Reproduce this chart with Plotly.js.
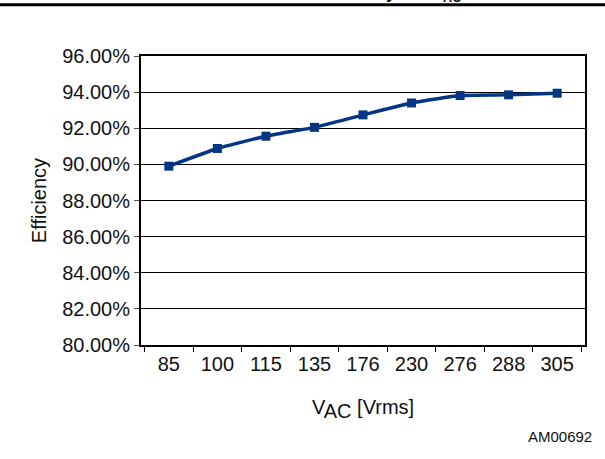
<!DOCTYPE html>
<html>
<head>
<meta charset="utf-8">
<script src="https://cdn.plot.ly/plotly-3.0.1.min.js"></script>
<style>html,body{margin:0;padding:0;background:#fff;}#chart{width:605px;height:459px;}</style>
</head>
<body>
<div id="chart"></div>
<script>
const voltages = ["85", "100", "115", "135", "176", "230", "276", "288", "305"];
const efficiency = [89.9, 90.88, 91.56, 92.05, 92.74, 93.4, 93.81, 93.85, 93.94];
const yTicks = [80, 82, 84, 86, 88, 90, 92, 94, 96];

const trace = {
  x: voltages,
  y: efficiency,
  type: 'scatter',
  mode: 'lines+markers',
  line: {color: '#043683', width: 3.5, shape: 'spline', smoothing: 0.4},
  marker: {symbol: 'square', size: 9, color: '#043683'},
  hoverinfo: 'none'
};

const FAM = 'Liberation Sans, Arial, sans-serif';
const font = {family: FAM, size: 20, color: '#111'};

const layout = {
  width: 605, height: 459,
  margin: {l: 141, r: 20, t: 56, b: 114},
  paper_bgcolor: '#fff', plot_bgcolor: '#fff',
  showlegend: false,
  font: font,
  xaxis: {
    type: 'category',
    tickson: 'boundaries',
    ticks: 'outside', ticklen: 5, tickcolor: '#000', tickwidth: 1,
    showgrid: false,
    showline: true, linecolor: '#000', linewidth: 2, mirror: true,
    tickfont: font,
    title: {text: 'V<sub><span style="font-size:20px">AC</span></sub> [Vrms]', font: {family: FAM, size: 20, color: '#111'}, standoff: 26},
    fixedrange: true
  },
  yaxis: {
    range: [80, 96],
    tickvals: yTicks,
    ticktext: yTicks.map(v => v.toFixed(2) + '%'),
    ticks: 'outside', ticklen: 5, tickcolor: '#555', tickwidth: 1,
    showgrid: true, gridcolor: '#000', gridwidth: 1,
    showline: true, linecolor: '#000', linewidth: 2, mirror: true,
    tickfont: font,
    title: {text: 'Efficiency', font: {family: FAM, size: 20, color: '#111'}, standoff: 10},
    zeroline: false,
    fixedrange: true
  },
  shapes: [
    {type: 'line', xref: 'paper', yref: 'paper', x0: -0.4, x1: 1.1, y0: 1.177, y1: 1.177, line: {color: '#000', width: 3}}
  ],
  annotations: [
    {text: 'AM00692', xref: 'paper', yref: 'paper', x: 1.02, y: -0.315, xanchor: 'right', yanchor: 'middle', showarrow: false, font: {family: FAM, size: 15, color: '#111'}},
    {text: '<b>Efficiency vs. V<sub>AC</sub></b>', xref: 'paper', yref: 'paper', x: 0.725, y: 1.168, xanchor: 'right', yanchor: 'bottom', showarrow: false, font: {family: FAM, size: 18, color: '#111'}}
  ]
};

Plotly.newPlot('chart', [trace], layout, {displayModeBar: false, staticPlot: true});
</script>
</body>
</html>
